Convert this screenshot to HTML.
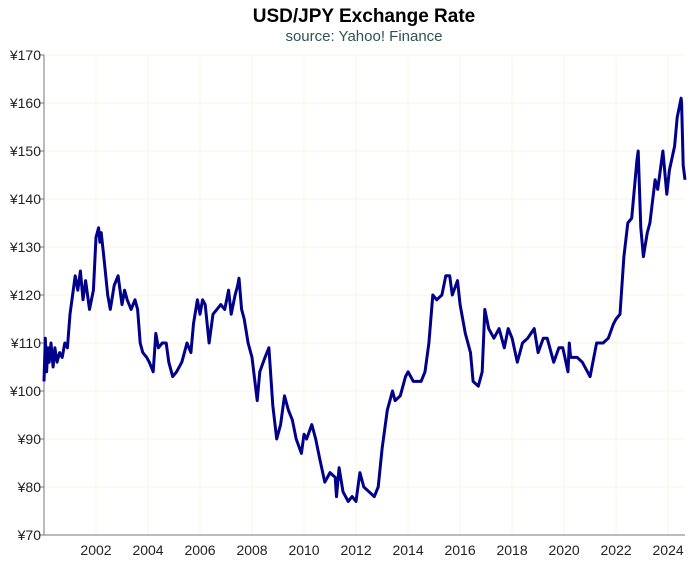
<!DOCTYPE html>
<html><head><meta charset="utf-8">
<style>
html,body{margin:0;padding:0;background:#fff;width:691px;height:561px;overflow:hidden}
svg{display:block;font-family:"Liberation Sans",sans-serif}
</style></head>
<body>
<svg id="chart" width="691" height="561" viewBox="0 0 691 561">
<text x="364" y="22" text-anchor="middle" font-size="19" font-weight="bold" fill="#000">USD/JPY Exchange Rate</text>
<text x="364" y="41" text-anchor="middle" font-size="15" fill="#2f5353">source: Yahoo! Finance</text>
<g id="grid"></g>
<g id="axes"></g>
<path id="line" fill="none" stroke="#00008b" stroke-width="3" stroke-linejoin="round"></path>
</svg>
<script>
const dates=[2000.0,2000.05,2000.1,2000.15,2000.2,2000.27,2000.35,2000.42,2000.5,2000.6,2000.7,2000.8,2000.9,2001.0,2001.1,2001.2,2001.3,2001.4,2001.5,2001.6,2001.75,2001.9,2002.0,2002.1,2002.15,2002.2,2002.3,2002.45,2002.55,2002.7,2002.85,2003.0,2003.1,2003.2,2003.35,2003.5,2003.6,2003.7,2003.8,2003.95,2004.05,2004.2,2004.3,2004.4,2004.55,2004.7,2004.8,2004.95,2005.1,2005.3,2005.5,2005.65,2005.75,2005.9,2006.0,2006.1,2006.2,2006.35,2006.5,2006.65,2006.8,2006.95,2007.1,2007.2,2007.35,2007.45,2007.5,2007.6,2007.7,2007.85,2008.0,2008.2,2008.3,2008.5,2008.65,2008.8,2008.95,2009.1,2009.25,2009.4,2009.55,2009.7,2009.9,2010.0,2010.1,2010.3,2010.45,2010.6,2010.8,2011.0,2011.2,2011.25,2011.35,2011.5,2011.7,2011.85,2012.0,2012.15,2012.3,2012.5,2012.7,2012.85,2013.0,2013.2,2013.4,2013.5,2013.7,2013.9,2014.0,2014.2,2014.5,2014.65,2014.8,2014.95,2015.1,2015.3,2015.45,2015.6,2015.7,2015.9,2016.0,2016.2,2016.4,2016.5,2016.7,2016.85,2016.95,2017.1,2017.3,2017.5,2017.7,2017.85,2018.0,2018.2,2018.4,2018.6,2018.85,2019.0,2019.2,2019.35,2019.6,2019.8,2019.95,2020.15,2020.2,2020.25,2020.3,2020.5,2020.7,2020.9,2021.0,2021.25,2021.5,2021.7,2021.9,2022.0,2022.15,2022.3,2022.45,2022.6,2022.8,2022.85,2022.95,2023.05,2023.2,2023.3,2023.5,2023.6,2023.8,2023.95,2024.05,2024.25,2024.35,2024.5,2024.52,2024.58,2024.65];
const rates=[102,111,104,109,106,110,105,109,106,108,107,110,109,116,120,124,121,125,119,123,117,121,132,134,131,133,128,120,117,122,124,118,121,119,117,119,117,110,108,107,106,104,112,109,110,110,106,103,104,106,110,108,114,119,116,119,118,110,116,117,118,117,121,116,120,122,123.5,117,115,110,107,98,104,107,109,97,90,93,99,96,94,90,87,91,90,93,90,86,81,83,82,78,84,79,77,78,77,83,80,79,78,80,88,96,100,98,99,103,104,102,102,104,110,120,119,120,124,124,120,123,118,112,108,102,101,104,117,113,111,113,109,113,111,106,110,111,113,108,111,111,106,109,109,104,110,107,107,107,106,104,103,110,110,111,114,115,116,128,135,136,148,150,134,128,133,135,144,142,150,141,146,151,157,161,160,147,144];
const yTicks=[70,80,90,100,110,120,130,140,150,160,170];
const xTicks=[2002,2004,2006,2008,2010,2012,2014,2016,2018,2020,2022,2024];
const X0=44,X1=685,Y0=535,Y1=55,xMin=2000,xMax=2024.65,yMin=70,yMax=170;
function sx(v){return X0+(v-xMin)/(xMax-xMin)*(X1-X0);}
function sy(v){return Y0-(v-yMin)/(yMax-yMin)*(Y0-Y1);}
const NS="http://www.w3.org/2000/svg";
const grid=document.getElementById('grid'),axes=document.getElementById('axes');
function mk(tag,attrs,parent){const e=document.createElementNS(NS,tag);for(const k in attrs)e.setAttribute(k,attrs[k]);parent.appendChild(e);return e;}
yTicks.forEach(v=>{
  const g=mk('line',{x1:X0,x2:X1,y1:sy(v),y2:sy(v),stroke:'#fdf0ea','stroke-width':1},grid);
  
  
  const t=mk('line',{x1:X0-5,x2:X0,y1:sy(v),y2:sy(v),stroke:'#777','stroke-width':1},axes);
  
  
  const l=mk('text',{x:X0-3,y:sy(v)+5,'text-anchor':'end','font-size':14,fill:'#222'},axes);
  l.textContent='¥'+v;
  
  
});
xTicks.forEach(v=>{
  const g=mk('line',{x1:sx(v),x2:sx(v),y1:Y1,y2:Y0,stroke:'#fdf0ea','stroke-width':1},grid);
  
  
  const l=mk('text',{x:sx(v),y:Y0+20,'text-anchor':'middle','font-size':14,fill:'#222'},axes);
  l.textContent=v;
  
  
});
const ya=mk('line',{x1:X0,x2:X0,y1:Y1,y2:Y0,stroke:'#777','stroke-width':1},axes);


const xa=mk('line',{x1:X0,x2:X1,y1:Y0,y2:Y0,stroke:'#777','stroke-width':1},axes);


let d='';
dates.forEach((t,i)=>{d+=(i?'L':'M')+sx(t).toFixed(1)+','+sy(rates[i]).toFixed(1);});
document.getElementById('line').setAttribute('d',d);
</script>
</body></html>
